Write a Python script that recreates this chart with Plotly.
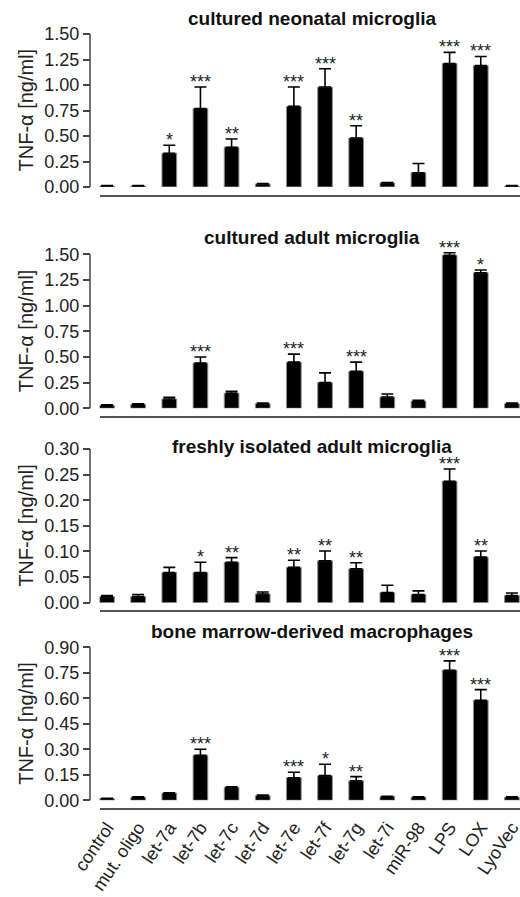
import plotly.graph_objects as go

categories = ["control", "mut. oligo", "let-7a", "let-7b", "let-7c", "let-7d", "let-7e",
              "let-7f", "let-7g", "let-7i", "miR-98", "LPS", "LOX", "LyoVec"]

panel_titles = ["cultured neonatal microglia", "cultured adult microglia",
                "freshly isolated adult microglia", "bone marrow-derived macrophages"]

neo_mean = [0.01, 0.01, 0.33, 0.77, 0.39, 0.03, 0.79, 0.98, 0.48, 0.04, 0.14, 1.21, 1.19, 0.01]
neo_err = [0.003, 0.003, 0.08, 0.21, 0.08, 0.004, 0.19, 0.18, 0.12, 0.004, 0.09, 0.11, 0.09, 0.003]
neo_sig = ["", "", "*", "***", "**", "", "***", "***", "**", "", "", "***", "***", ""]

adult_mean = [0.03, 0.04, 0.09, 0.44, 0.145, 0.045, 0.45, 0.25, 0.36, 0.11, 0.07, 1.49, 1.32, 0.045]
adult_err = [0.005, 0.005, 0.017, 0.06, 0.02, 0.005, 0.078, 0.095, 0.09, 0.03, 0.008, 0.025, 0.027, 0.005]
adult_sig = ["", "", "", "***", "", "", "***", "", "***", "", "", "***", "*", ""]

fresh_mean = [0.012, 0.012, 0.059, 0.059, 0.079, 0.017, 0.069, 0.082, 0.066, 0.02, 0.016, 0.237, 0.089, 0.014]
fresh_err = [0.002, 0.004, 0.010, 0.020, 0.009, 0.004, 0.014, 0.019, 0.012, 0.014, 0.007, 0.024, 0.012, 0.005]
fresh_sig = ["", "", "", "*", "**", "", "**", "**", "**", "", "", "***", "**", ""]

bmdm_mean = [0.01, 0.018, 0.041, 0.265, 0.076, 0.027, 0.133, 0.145, 0.114, 0.022, 0.018, 0.765, 0.588, 0.018]
bmdm_err = [0.002, 0.002, 0.003, 0.035, 0.003, 0.004, 0.032, 0.067, 0.025, 0.002, 0.002, 0.055, 0.063, 0.002]
bmdm_sig = ["", "", "", "***", "", "", "***", "*", "**", "", "", "***", "***", ""]

y_max = [1.5, 1.5, 0.3, 0.9]
y_step = [0.25, 0.25, 0.05, 0.15]

panels = [(neo_mean, neo_err, neo_sig), (adult_mean, adult_err, adult_sig),
          (fresh_mean, fresh_err, fresh_sig), (bmdm_mean, bmdm_err, bmdm_sig)]

FONT = "Liberation Sans"
W, H = 520, 897
AXIS_X = 90                  # page pixel of the y-axis lines
ML = AXIS_X
PW = W - ML
HEAD = 0.06  # headroom above top tick; axis line drawn only up to top tick


def fx(px):
    return (px - AXIS_X) / PW


def fy(py):
    return 1 - py / H


# pixel layout (top tick, zero, offset x-axis line, title centre)
tops = [34, 254.3, 449, 647.3]
zeros = [187, 408.3, 602.7, 800.3]
xlines = [196, 416.7, 610.7, 809]
title_y = [19, 237.7, 446.2, 631.7]

x_range = [-0.241, 13.26]

fig = go.Figure()
for i, (mean, err, sig) in enumerate(panels):
    sfx = "" if i == 0 else str(i + 1)
    fig.add_trace(go.Bar(
        x=categories, y=mean, width=0.47,
        marker=dict(color="black", line=dict(color="#8a8a8a", width=1)),
        error_y=dict(type="data", symmetric=False, array=err,
                     arrayminus=[0] * len(err), color="black", thickness=1.6, width=6),
        xaxis="x" + sfx, yaxis="y" + sfx, cliponaxis=False, showlegend=False,
        hoverinfo="skip",
    ))
    for c, m, e, s in zip(categories, mean, err, sig):
        if s:
            fig.add_annotation(
                x=c, y=m + e, xref="x" + sfx, yref="y" + sfx, text=s,
                showarrow=False, xanchor="center", yanchor="bottom", yshift=-7,
                font=dict(family=FONT, size=18, color="#222"),
            )
    n = int(round(y_max[i] / y_step[i]))
    tv = [round(k * y_step[i], 4) for k in range(n + 1)]
    top_val = y_max[i] * (1 + HEAD)
    span_px = zeros[i] - tops[i]
    top_px = zeros[i] - span_px * (1 + HEAD)
    fig.layout["yaxis" + sfx] = dict(
        domain=[fy(zeros[i]), fy(top_px)], range=[0, top_val],
        anchor="free", position=0, showline=False,
        ticks="outside", ticklen=7, tickwidth=1.5, tickcolor="#444",
        tickvals=tv, tickformat=".2f", showgrid=False, zeroline=False,
        tickfont=dict(family=FONT, size=18, color="#222"),
    )
    fig.add_shape(type="line", xref="paper", yref="y" + sfx, x0=0, x1=0,
                  y0=0, y1=y_max[i], line=dict(color="#444", width=1.5))
    fig.layout["xaxis" + sfx] = dict(
        domain=[fx(99.5), 1], range=x_range, type="category",
        anchor="free", position=fy(xlines[i]),
        showline=True, linecolor="#555", linewidth=2, ticks="",
        showticklabels=(i == 3), tickangle=-56, showgrid=False, zeroline=False,
        tickfont=dict(family=FONT, size=18, color="#222"),
    )
    fig.add_annotation(
        text="TNF-α [ng/ml]", textangle=-90, xref="paper", yref="paper",
        x=fx(26), y=fy((tops[i] + zeros[i]) / 2),
        xanchor="center", yanchor="middle", showarrow=False,
        font=dict(family=FONT, size=20, color="#222"),
    )
    fig.add_annotation(
        text="<b>" + panel_titles[i] + "</b>", xref="paper", yref="paper",
        x=fx(312), y=fy(title_y[i]),
        xanchor="center", yanchor="middle", showarrow=False,
        font=dict(family=FONT, size=19, color="#111"),
    )

fig.update_layout(
    width=W, height=H, margin=dict(l=ML, r=0, t=0, b=0, autoexpand=False),
    plot_bgcolor="white", paper_bgcolor="white",
    font=dict(family=FONT, color="#222"),
)
fig.write_html(
    "out.html",
    config={"displayModeBar": False},
    post_script="document.body.style.margin='0';document.body.style.overflow='hidden';",
)
